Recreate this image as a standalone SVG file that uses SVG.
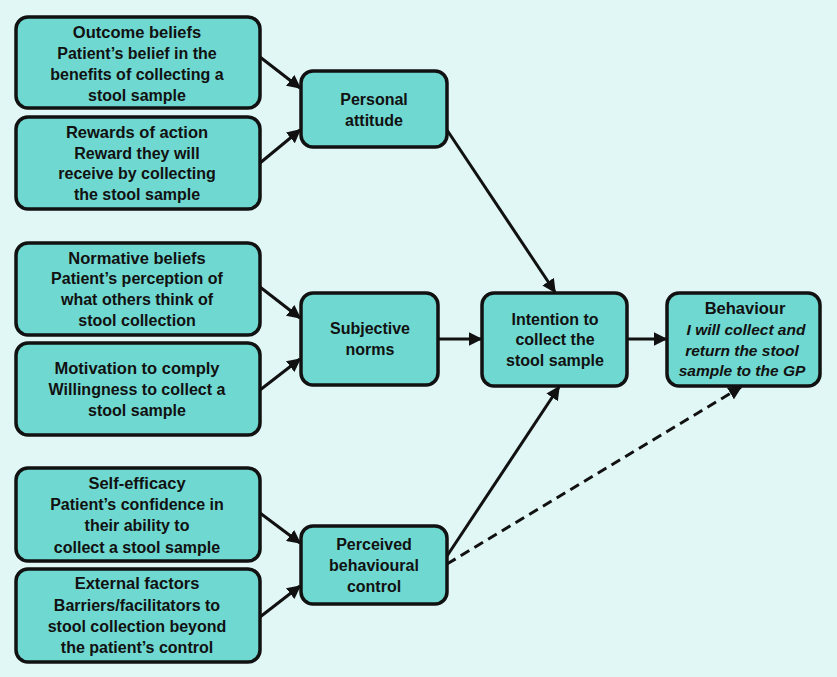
<svg xmlns="http://www.w3.org/2000/svg" width="837" height="677" viewBox="0 0 837 677">
<style>
.bg{fill:#e0f7f5}
.box{fill:#6fd8d0;stroke:#111;stroke-width:3.5}
text{font-family:"Liberation Sans",Arial,sans-serif;font-size:16px;fill:#111;text-anchor:middle;font-weight:bold}
.t{font-weight:bold;font-size:16.5px}
.b{font-weight:bold}
.i{font-style:italic;font-size:15.5px}
.c{stroke:#111;stroke-width:3;fill:none;marker-end:url(#ah)}
.d{stroke-dasharray:10 6}
</style>
<defs>
<marker id="ah" viewBox="0 0 10 10" refX="9" refY="5" markerWidth="4.6" markerHeight="4.6" orient="auto" markerUnits="strokeWidth">
<path d="M0,0 L10,5 L0,10 Z" fill="#111"/>
</marker>
</defs>
<rect class="bg" width="837" height="677"/>
<g id="connectors">
<line class="c" x1="260" y1="57" x2="300" y2="88"/>
<line class="c" x1="260" y1="163" x2="300" y2="130"/>
<line class="c" x1="447" y1="130" x2="555" y2="292"/>
<line class="c" x1="260" y1="287" x2="300" y2="318"/>
<line class="c" x1="260" y1="390" x2="300" y2="359"/>
<line class="c" x1="438" y1="339" x2="481" y2="339"/>
<line class="c" x1="627" y1="339" x2="666" y2="339"/>
<line class="c" x1="260" y1="513" x2="300" y2="543"/>
<line class="c" x1="260" y1="617" x2="300" y2="586"/>
<line class="c" x1="447" y1="556" x2="559" y2="387"/>
<line class="c d" x1="447" y1="564" x2="741" y2="387"/>
</g>
<g id="outcome">
<rect class="box" x="16" y="17" width="244" height="91" rx="12"/>
<text class="t" x="137" y="38">Outcome beliefs</text>
<text class="b" x="137" y="59">Patient’s belief in the</text>
<text class="b" x="137" y="80">benefits of collecting a</text>
<text class="b" x="137" y="101">stool sample</text>
</g>
<g id="rewards">
<rect class="box" x="16" y="117" width="244" height="92" rx="12"/>
<text class="t" x="137" y="138">Rewards of action</text>
<text class="b" x="137" y="159">Reward they will</text>
<text class="b" x="137" y="179">receive by collecting</text>
<text class="b" x="137" y="200">the stool sample</text>
</g>
<g id="personal">
<rect class="box" x="301" y="71" width="146" height="76" rx="12"/>
<text class="b" x="374" y="105">Personal</text>
<text class="b" x="374" y="126">attitude</text>
</g>
<g id="normative">
<rect class="box" x="16" y="243" width="244" height="92" rx="12"/>
<text class="t" x="137" y="264">Normative beliefs</text>
<text class="b" x="137" y="284">Patient’s perception of</text>
<text class="b" x="137" y="305">what others think of</text>
<text class="b" x="137" y="326">stool collection</text>
</g>
<g id="motivation">
<rect class="box" x="16" y="343" width="244" height="92" rx="12"/>
<text class="t" x="137" y="374">Motivation to comply</text>
<text class="b" x="137" y="395">Willingness to collect a</text>
<text class="b" x="137" y="416">stool sample</text>
</g>
<g id="subjective">
<rect class="box" x="301" y="293" width="137" height="92" rx="12"/>
<text class="b" x="370" y="334">Subjective</text>
<text class="b" x="370" y="355">norms</text>
</g>
<g id="selfefficacy">
<rect class="box" x="16" y="468" width="244" height="93" rx="12"/>
<text class="t" x="137" y="489">Self-efficacy</text>
<text class="b" x="137" y="510">Patient’s confidence in</text>
<text class="b" x="137" y="531">their ability to</text>
<text class="b" x="137" y="553">collect a stool sample</text>
</g>
<g id="external">
<rect class="box" x="16" y="569" width="244" height="93" rx="12"/>
<text class="t" x="137" y="589">External factors</text>
<text class="b" x="137" y="611">Barriers/facilitators to</text>
<text class="b" x="137" y="632">stool collection beyond</text>
<text class="b" x="137" y="653">the patient’s control</text>
</g>
<g id="perceived">
<rect class="box" x="301" y="526" width="146" height="78" rx="12"/>
<text class="b" x="374" y="550">Perceived</text>
<text class="b" x="374" y="571">behavioural</text>
<text class="b" x="374" y="592">control</text>
</g>
<g id="intention">
<rect class="box" x="482" y="293" width="145" height="93" rx="12"/>
<text class="b" x="555" y="325">Intention to</text>
<text class="b" x="555" y="345">collect the</text>
<text class="b" x="555" y="366">stool sample</text>
</g>
<g id="behaviour">
<rect class="box" x="667" y="293" width="153" height="93" rx="12"/>
<text class="t" x="745" y="314">Behaviour</text>
<text class="b i" x="746" y="335">I will collect and</text>
<text class="b i" x="742" y="356">return the stool</text>
<text class="b i" x="742" y="376">sample to the GP</text>
</g>
</svg>
